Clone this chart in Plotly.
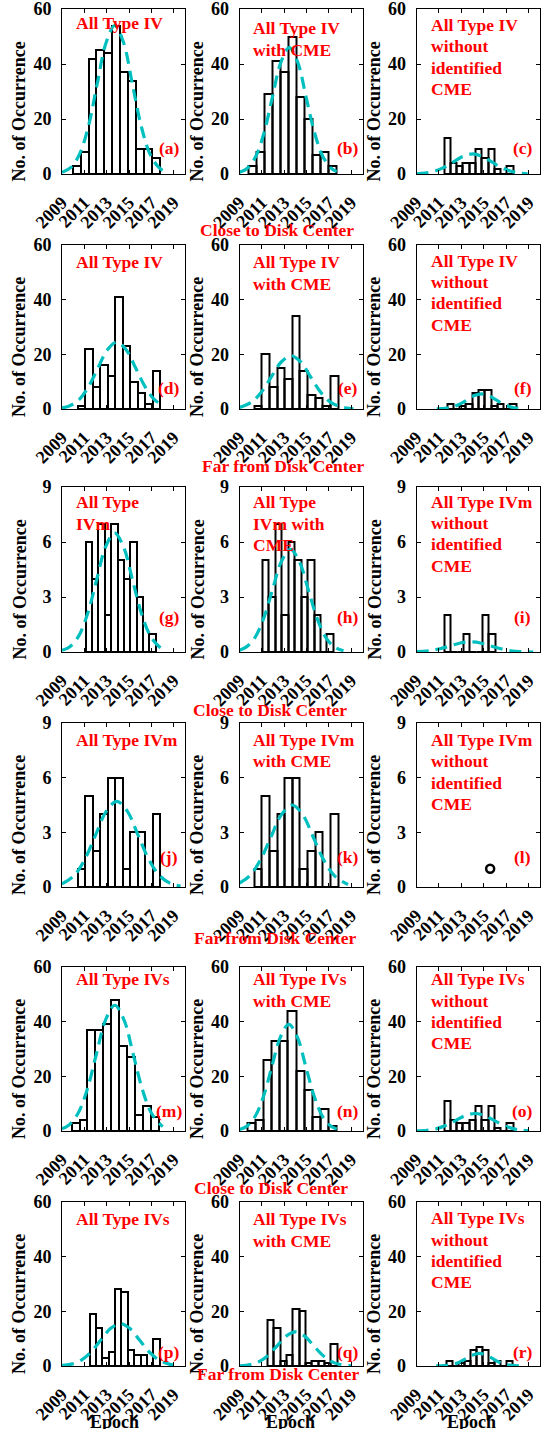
import plotly.graph_objects as go

# ---------------- data ----------------
panel_ids = list("abcdefghijklmnopqr")

panel_titles = [
    "All Type IV", "All Type IV<br>with CME", "All Type IV<br>without<br>identified<br>CME",
    "All Type IV", "All Type IV<br>with CME", "All Type IV<br>without<br>identified<br>CME",
    "All Type<br>IVm", "All Type<br>IVm with<br>CME", "All Type IVm<br>without<br>identified<br>CME",
    "All Type IVm", "All Type IVm<br>with CME", "All Type IVm<br>without<br>identified<br>CME",
    "All Type IVs", "All Type IVs<br>with CME", "All Type IVs<br>without<br>identified<br>CME",
    "All Type IVs", "All Type IVs<br>with CME", "All Type IVs<br>without<br>identified<br>CME",
]

section_labels = ["Close to Disk Center", "Far from Disk Center",
                  "Close to Disk Center", "Far from Disk Center",
                  "Close to Disk Center", "Far from Disk Center"]

x_tick_years = [2009, 2011, 2013, 2015, 2017, 2019]
x_range = [2009, 2020]
y_max = [60, 60, 60, 60, 60, 60, 9, 9, 9, 9, 9, 9, 60, 60, 60, 60, 60, 60]
y_step = [20, 20, 20, 20, 20, 20, 3, 3, 3, 3, 3, 3, 20, 20, 20, 20, 20, 20]

# histogram bins: first edge (year) and bin width (years)
bin_start = [2009.96, 2009.77, 2011.45, 2010.42, 2010.33, 2011.72,
             2011.12, 2011.05, 2011.49, 2010.42, 2010.33, None,
             2009.86, 2009.71, 2011.45, 2011.47, 2011.50, 2011.65]
bin_width = [0.706, 0.718, 0.56, 0.67, 0.68, 0.56,
             0.569, 0.577, 0.565, 0.67, 0.68, None,
             0.71, 0.724, 0.56, 0.569, 0.568, 0.54]
counts = [
    [3, 8, 42, 45, 44, 54, 37, 34, 9, 9, 6],
    [3, 8, 29, 41, 37, 50, 28, 20, 7, 8, 3],
    [13, 4, 3, 4, 4, 9, 6, 9, 2, 0, 3],
    [1, 22, 8, 16, 12, 41, 23, 10, 6, 2, 14],
    [1, 20, 8, 15, 11, 34, 14, 5, 4, 1, 12],
    [2, 0, 1, 2, 6, 7, 7, 1, 2, 0, 2],
    [6, 4, 7, 2, 7, 5, 4, 6, 3, 0, 1],
    [5, 3, 7, 2, 6, 5, 3, 5, 2, 0, 1],
    [2, 0, 0, 1, 0, 0, 2, 1],
    [1, 5, 2, 4, 6, 6, 1, 3, 3, 0, 4],
    [1, 5, 2, 4, 6, 6, 1, 2, 3, 0, 4],
    None,
    [3, 4, 37, 37, 39, 48, 31, 27, 6, 9, 5],
    [3, 4, 26, 33, 33, 44, 22, 15, 5, 8, 2],
    [11, 4, 3, 3, 4, 9, 4, 9, 1, 0, 3],
    [19, 14, 3, 5, 28, 27, 6, 4, 4, 0, 10],
    [17, 14, 2, 4, 21, 20, 1, 2, 2, 1, 8],
    [2, 0, 1, 2, 6, 7, 6, 1, 2, 0, 2],
]

# single event shown as a circle in panel (l)
single_x = [2015.56]
single_y = [1]

# dashed fitted curves
fit_x = [
    [2009.0, 2009.8, 2010.58, 2011.37, 2012.15, 2012.94, 2013.72, 2014.51, 2015.29, 2016.08, 2016.86, 2017.65, 2018.1],
    [2009.0, 2009.68, 2010.43, 2011.19, 2011.94, 2012.7, 2013.45, 2014.21, 2014.96, 2015.72, 2016.47, 2017.23, 2017.7],
    [2009.0, 2009.75, 2010.6, 2011.45, 2012.3, 2013.15, 2014.0, 2014.85, 2015.7, 2016.55, 2017.4, 2018.25, 2018.9],
    [2009.0, 2009.65, 2010.5, 2011.35, 2012.2, 2013.05, 2013.9, 2014.75, 2015.6, 2016.45, 2017.3, 2018.1],
    [2009.0, 2010.1, 2010.98, 2011.85, 2012.73, 2013.6, 2014.48, 2015.35, 2016.23, 2017.1, 2017.98, 2018.85, 2019.2],
    [2010.8, 2011.55, 2012.2, 2012.85, 2013.5, 2014.15, 2014.8, 2015.45, 2016.1, 2016.75, 2017.4, 2018.05, 2018.5],
    [2009.0, 2009.7, 2010.5, 2011.3, 2012.1, 2012.9, 2013.7, 2014.5, 2015.3, 2016.1, 2016.9, 2017.7, 2018.3],
    [2009.0, 2009.55, 2010.35, 2011.15, 2011.95, 2012.75, 2013.55, 2014.35, 2015.15, 2015.95, 2016.75, 2017.55, 2018.3],
    [2009.0, 2010.2, 2011.1, 2012.0, 2012.9, 2013.8, 2014.7, 2015.6, 2016.5, 2017.4, 2018.3, 2019.4],
    [2009.0, 2010.1, 2011.05, 2012.0, 2012.95, 2013.9, 2014.85, 2015.8, 2016.75, 2017.7, 2018.65, 2019.6],
    [2009.0, 2009.9, 2010.85, 2011.8, 2012.75, 2013.7, 2014.65, 2015.6, 2016.55, 2017.5, 2018.7],
    None,
    [2009.0, 2009.57, 2010.4, 2011.23, 2012.06, 2012.89, 2013.72, 2014.55, 2015.38, 2016.21, 2017.04, 2018.0],
    [2009.0, 2009.64, 2010.39, 2011.15, 2011.9, 2012.66, 2013.41, 2014.17, 2014.92, 2015.68, 2016.43, 2017.19, 2017.7],
    [2009.0, 2009.95, 2010.8, 2011.65, 2012.5, 2013.35, 2014.2, 2015.05, 2015.9, 2016.75, 2017.6, 2018.45, 2019.0],
    [2009.0, 2009.83, 2010.7, 2011.58, 2012.45, 2013.33, 2014.2, 2015.08, 2015.95, 2016.83, 2017.7, 2018.58, 2019.0],
    [2009.0, 2010.0, 2010.8, 2011.6, 2012.4, 2013.2, 2014.0, 2014.8, 2015.6, 2016.4, 2017.2, 2018.0, 2019.0],
    [2010.75, 2011.73, 2012.3, 2012.88, 2013.45, 2014.03, 2014.6, 2015.18, 2015.75, 2016.33, 2016.9, 2017.48, 2018.5],
]
fit_y = [
    [0.6, 2.4, 7.3, 17.5, 32.8, 47.7, 54.0, 47.7, 32.8, 17.5, 7.3, 2.4, 1.1],
    [0.6, 2.0, 6.2, 14.9, 27.9, 40.6, 46.0, 40.6, 27.9, 14.9, 6.2, 2.0, 0.9],
    [0.1, 0.3, 1.0, 2.4, 4.4, 6.4, 7.3, 6.4, 4.4, 2.4, 1.0, 0.3, 0.1],
    [0.4, 1.1, 3.3, 8.0, 14.9, 21.6, 24.5, 21.6, 14.9, 8.0, 3.3, 1.2],
    [0.6, 2.6, 6.3, 11.8, 17.2, 19.5, 17.2, 11.8, 6.3, 2.6, 0.9, 0.2, 0.1],
    [0.05, 0.2, 0.7, 1.8, 3.3, 4.9, 5.5, 4.9, 3.3, 1.8, 0.7, 0.2, 0.1],
    [0.09, 0.29, 0.88, 2.11, 3.94, 5.74, 6.5, 5.74, 3.94, 2.11, 0.88, 0.29, 0.1],
    [0.1, 0.25, 0.76, 1.82, 3.4, 4.94, 5.6, 4.94, 3.4, 1.82, 0.76, 0.25, 0.07],
    [0.02, 0.07, 0.18, 0.33, 0.49, 0.55, 0.49, 0.33, 0.18, 0.07, 0.02, 0.0],
    [0.17, 0.64, 1.53, 2.85, 4.15, 4.7, 4.15, 2.85, 1.53, 0.64, 0.21, 0.05],
    [0.21, 0.61, 1.46, 2.73, 3.97, 4.5, 3.97, 2.73, 1.46, 0.61, 0.14],
    None,
    [0.8, 2.0, 6.2, 14.9, 27.9, 40.6, 46.0, 40.6, 27.9, 14.9, 6.2, 1.6],
    [0.55, 1.7, 5.3, 12.7, 23.7, 34.4, 39.0, 34.4, 23.7, 12.7, 5.3, 1.7, 0.7],
    [0.06, 0.28, 0.87, 2.08, 3.88, 5.65, 6.4, 5.65, 3.88, 2.08, 0.87, 0.28, 0.12],
    [0.19, 0.68, 2.1, 5.03, 9.4, 13.68, 15.5, 13.68, 9.4, 5.03, 2.1, 0.68, 0.36],
    [0.1, 0.55, 1.69, 4.06, 7.58, 11.03, 12.5, 11.03, 7.58, 4.06, 1.69, 0.55, 0.1],
    [0.02, 0.2, 0.62, 1.49, 2.79, 4.06, 4.6, 4.06, 2.79, 1.49, 0.62, 0.2, 0.01],
]

# ---------------- layout constants (pixels) ----------------
W, H = 541, 1429
FONT = "Liberation Serif"
FS_BLACK = 18
FS_RED = 17.5
RED = "#FF0000"
CYAN = "#00BFBF"
col_px = [(62, 185), (239.5, 362.5), (416.5, 540)]
row_px = [(9, 174), (245, 409), (487, 652), (723, 887), (967, 1131), (1202, 1366)]
title_left_px = [74, 251, 429.5]
title_first_y_px = [[22.7, 28.3, 25], [262, 262.3, 260.7], [502.3, 502.3, 501.7],
                    [740, 740, 740], [979.3, 979.3, 979.3], [1219.3, 1219.3, 1218.3]]
TITLE_LINE_PX = 21.3
letter_x_px = [169, 347.5, 522.5]
letter_y_px = [148.3, 388.3, 616.7, 856.7, 1110.7, 1351.5]
ylabel_x_px = [19, 197, 374]
section_pos_px = [(277, 230), (283, 466), (270, 710), (275, 938), (270.5, 1188), (278, 1374)]
epoch_pos_px = [(114, 1422), (290, 1422), (471, 1422)]


def px(x):
    return x / W


def py(y):
    return 1 - y / H


fig = go.Figure()
annotations = []
layout_axes = {}
red_font = dict(family=FONT, size=FS_RED, color=RED, weight="bold")
black_font = dict(family=FONT, size=FS_BLACK, color="black", weight="bold")

for k, pid in enumerate(panel_ids):
    r, c = divmod(k, 3)
    sfx = "" if k == 0 else str(k + 1)
    xa, ya = "x" + sfx, "y" + sfx
    x0, x1 = col_px[c]
    t, b = row_px[r]

    common = dict(showline=True, linecolor="black", linewidth=1, mirror="ticks",
                  ticks="inside", ticklen=4, tickwidth=1, tickcolor="black",
                  showgrid=False, zeroline=False, tickfont=black_font, fixedrange=True,
                  automargin=False, ticklabeloverflow="allow")
    layout_axes["xaxis" + sfx] = dict(domain=[px(x0), px(x1)], anchor=ya, range=x_range,
                                      tickvals=x_tick_years, tickangle=-45,
                                      ticklabelstandoff=10, **common)
    layout_axes["yaxis" + sfx] = dict(domain=[py(b), py(t)], anchor=xa, range=[0, y_max[k]],
                                      tick0=0, dtick=y_step[k], ticklabelstandoff=6, **common)

    if counts[k] is not None:
        n = len(counts[k])
        centers = [bin_start[k] + bin_width[k] * (i + 0.5) for i in range(n)]
        fig.add_trace(go.Bar(x=centers, y=counts[k], width=[bin_width[k]] * n,
                             marker=dict(color="rgba(0,0,0,0)", line=dict(color="black", width=2)),
                             xaxis=xa, yaxis=ya, showlegend=False))
    if fit_x[k] is not None:
        fig.add_trace(go.Scatter(x=fit_x[k], y=fit_y[k], mode="lines",
                                 line=dict(color=CYAN, width=3.2, dash="12px,7px", shape="spline"),
                                 xaxis=xa, yaxis=ya, showlegend=False))
    if pid == "l":
        fig.add_trace(go.Scatter(x=single_x, y=single_y, mode="markers",
                                 marker=dict(symbol="circle-open", size=8, color="black",
                                             line=dict(width=2.5, color="black")),
                                 xaxis=xa, yaxis=ya, showlegend=False))

    # red title text, one annotation per line
    for li, line in enumerate(panel_titles[k].split("<br>")):
        yl = title_first_y_px[r][c] + li * TITLE_LINE_PX
        annotations.append(dict(text=line, x=px(title_left_px[c]), y=py(yl),
                                xref="paper", yref="paper", xanchor="left", yanchor="middle",
                                showarrow=False, font=red_font))
    # panel letter
    annotations.append(dict(text="(" + pid + ")", x=px(letter_x_px[c]), y=py(letter_y_px[r]),
                            xref="paper", yref="paper", xanchor="center", yanchor="middle",
                            showarrow=False, font=red_font))
    # y-axis label
    annotations.append(dict(text="No. of Occurrence", x=px(ylabel_x_px[c]), y=py((t + b) / 2 + 20),
                            xref="paper", yref="paper", xanchor="center", yanchor="middle",
                            textangle=-90, showarrow=False, font=black_font))

for (sx, sy), lbl in zip(section_pos_px, section_labels):
    annotations.append(dict(text=lbl, x=px(sx), y=py(sy), xref="paper", yref="paper",
                            xanchor="center", yanchor="middle", showarrow=False, font=red_font))
for ex, ey in epoch_pos_px:
    annotations.append(dict(text="Epoch", x=px(ex), y=py(ey), xref="paper", yref="paper",
                            xanchor="center", yanchor="middle", showarrow=False, font=black_font))

fig.update_layout(template="none", width=W, height=H, autosize=False,
                  margin=dict(l=0, r=0, t=0, b=0, pad=0),
                  paper_bgcolor="white", plot_bgcolor="white",
                  showlegend=False, bargap=0, annotations=annotations,
                  **layout_axes)

fig.write_html("out.html")
